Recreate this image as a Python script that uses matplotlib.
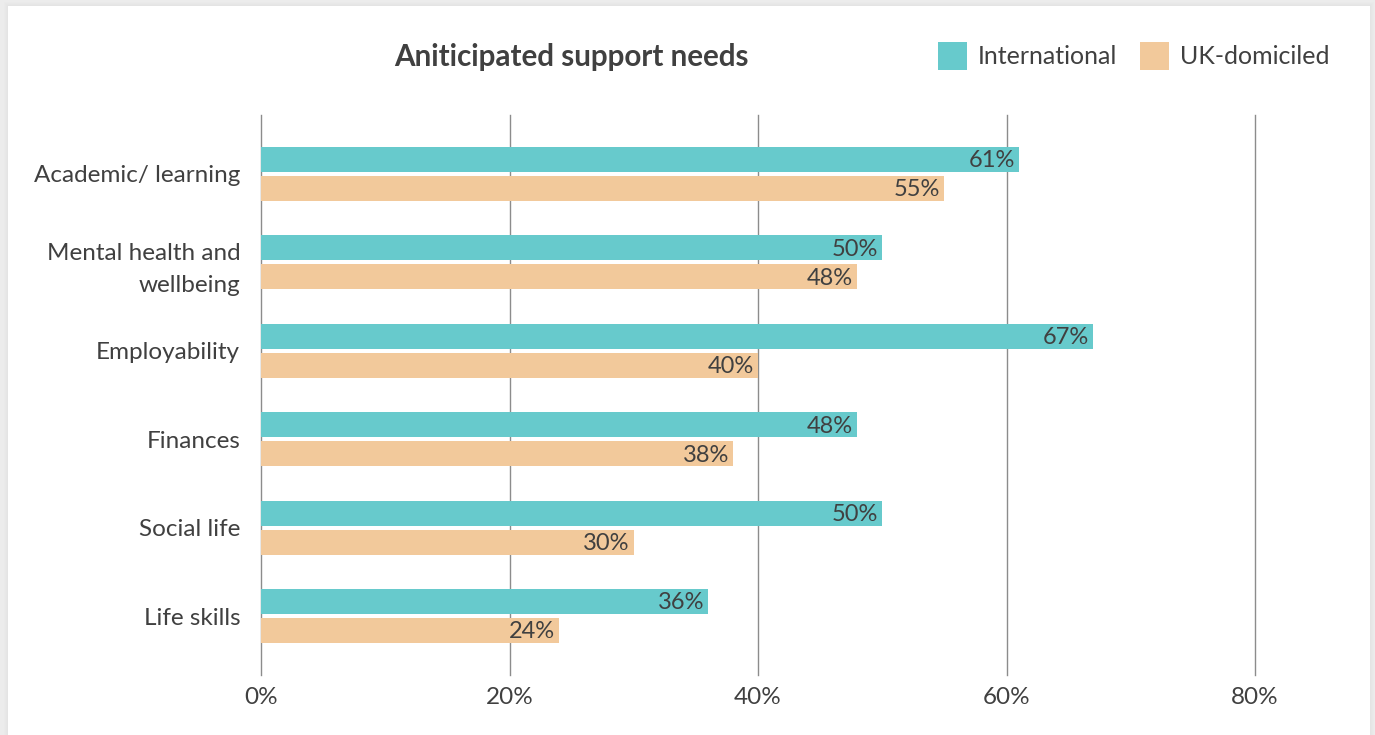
import matplotlib
matplotlib.use("Agg")
import matplotlib.pyplot as plt
from matplotlib.patches import Rectangle, Patch
import numpy as np

# Survey results: share of students anticipating each support need
categories = ["Academic/ learning", "Mental health and\nwellbeing", "Employability",
              "Finances", "Social life", "Life skills"]
international = [61, 50, 67, 48, 50, 36]
uk_domiciled = [55, 48, 40, 38, 30, 24]
x_ticks = [0, 20, 40, 60, 80]
x_tick_labels = ["0%", "20%", "40%", "60%", "80%"]

TEAL = "#67CACC"
PEACH = "#F2C99B"
TEXT = "#404040"
GRID = "#8C8C8C"

plt.rcParams["font.family"] = ["Lato", "DejaVu Sans"]

W, H = 1375, 735
fig = plt.figure(figsize=(W / 100, H / 100), dpi=100)
fig.patch.set_facecolor("#ececec")

# card with a soft shadow
card_l, card_r, card_t = 8 / W, 1370 / W, 1 - 6 / H
for i, a in enumerate([0.04, 0.05, 0.06, 0.07]):
    g = (4 - i) / W
    fig.patches.append(Rectangle((card_l - g, 0), card_r - card_l + 2 * g, card_t + g * W / H,
                                 transform=fig.transFigure, facecolor="#d0d0d0",
                                 alpha=a, edgecolor="none", zorder=-3))
fig.patches.append(Rectangle((card_l, 0), card_r - card_l, card_t,
                             transform=fig.transFigure, facecolor="white",
                             edgecolor="none", zorder=-2))

ax = fig.add_axes([261 / W, 1 - 675 / H, (1255 - 261) / W, (675 - 115) / H])
ax.set_zorder(2)
ax.set_facecolor("none")

y = np.arange(len(categories))
off = 0.164
h = 0.283
ax.barh(y - off, international, height=h, color=TEAL, zorder=3, label="International")
ax.barh(y + off, uk_domiciled, height=h, color=PEACH, zorder=3, label="UK-domiciled")

for yi, v in zip(y - off, international):
    ax.annotate(f"{v}%", xy=(v, yi), xytext=(-3, -1), textcoords="offset points",
                ha="right", va="center", fontsize=17, color=TEXT, zorder=4)
for yi, v in zip(y + off, uk_domiciled):
    ax.annotate(f"{v}%", xy=(v, yi), xytext=(-3, -1), textcoords="offset points",
                ha="right", va="center", fontsize=17, color=TEXT, zorder=4)

ax.set_xlim(0, 80)
ax.set_ylim(len(categories) - 1 + 0.667, -0.667)
ax.set_xticks(x_ticks)
ax.set_xticklabels(x_tick_labels, fontsize=17.5, color=TEXT)
ax.set_yticks(y)
ax.set_yticklabels(categories, fontsize=17.5, color=TEXT, linespacing=1.6)
ax.tick_params(axis="both", length=0)
ax.tick_params(axis="x", pad=9)
ax.tick_params(axis="y", pad=15)
ax.grid(axis="x", color=GRID, linewidth=1.0, zorder=0)
for gl in ax.get_xgridlines():
    gl.set_clip_on(False)
ax.set_axisbelow(True)
for s in ax.spines.values():
    s.set_visible(False)

fig.text(571 / W, 1 - 57 / H, "Aniticipated support needs", ha="center", va="center",
         fontsize=21.3, fontweight="bold", color=TEXT)

handles = [Patch(facecolor=TEAL, edgecolor="none"), Patch(facecolor=PEACH, edgecolor="none")]
fig.legend(handles, ["International", "UK-domiciled"], loc="center right",
           bbox_to_anchor=(1342 / W, 1 - 56 / H), ncol=2, frameon=False,
           fontsize=18, labelcolor=TEXT, handlelength=1.15, handleheight=1.35,
           handletextpad=0.45, columnspacing=0.9, borderpad=0)

fig.savefig("out.png", dpi=100, facecolor=fig.get_facecolor())
